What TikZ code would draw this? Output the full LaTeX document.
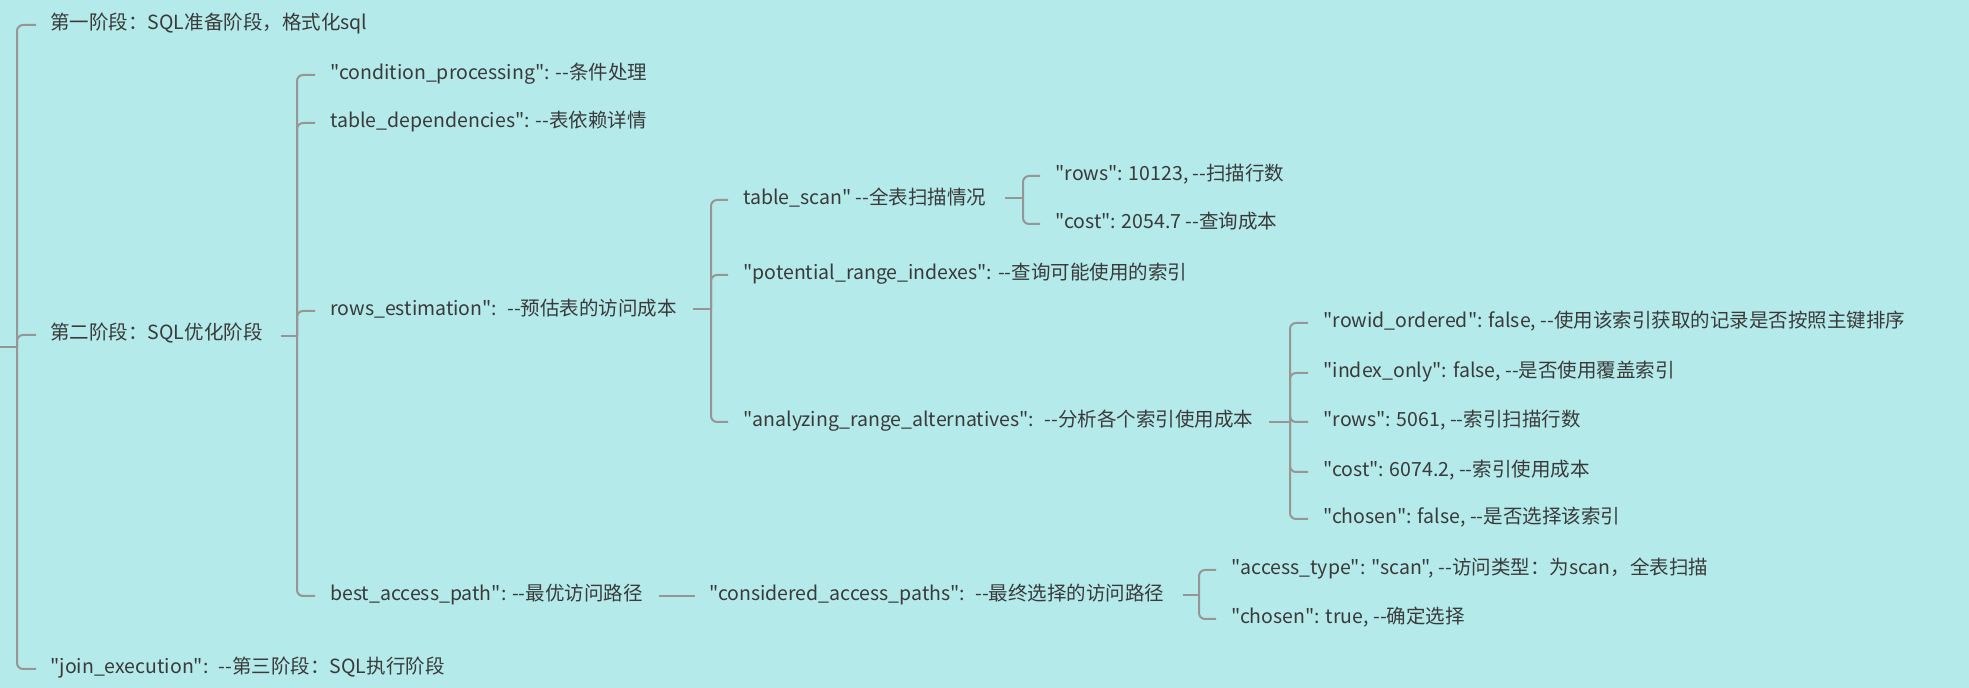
\documentclass[tikz,border=0pt]{standalone}
\usepackage{fontspec}
\newfontfamily\cjk{Noto Sans CJK SC}
\definecolor{bgc}{RGB}{180,234,234}
\definecolor{linec}{RGB}{150,150,150}
\definecolor{txtc}{RGB}{58,58,58}
\newcommand{\dd}{-\kern0pt-}
\begin{document}
\begin{tikzpicture}[x=0.5pt,y=-0.5pt,
  lbl/.style={anchor=west,inner sep=0pt,text height=0.8em,text depth=0.2em,yshift=0.6pt,font=\cjk\fontsize{9.75pt}{12pt}\selectfont,text=txtc},
  conn/.style={draw=linec,line width=1pt,rounded corners=3pt}]
\fill[bgc] (0,0) rectangle (1969,688);
\useasboundingbox (0,0) rectangle (1969,688);
% level 1
\node[lbl] (t1) at (50,25) {第一阶段：SQL准备阶段，格式化sql};
\node[lbl] (t2) at (50,335) {第二阶段：SQL优化阶段};
\node[lbl] (t3) at (50,669) {"join\_execution":~ \dd{}第三阶段：SQL执行阶段};
% level 2
\node[lbl] (a1) at (330,75) {"condition\_processing": \dd{}条件处理};
\node[lbl] (a2) at (330,123) {table\_dependencies": \dd{}表依赖详情};
\node[lbl] (a3) at (330,311) {rows\_estimation":~ \dd{}预估表的访问成本};
\node[lbl] (a4) at (330,596) {best\_access\_path": \dd{}最优访问路径};
% level 3
\node[lbl] (b1) at (743,200) {table\_scan" \dd{}全表扫描情况};
\node[lbl] (b2) at (743,275) {"potential\_range\_indexes": \dd{}查询可能使用的索引};
\node[lbl] (b3) at (743,422) {"analyzing\_range\_alternatives":~ \dd{}分析各个索引使用成本};
\node[lbl] (e1) at (709,596) {"considered\_access\_paths":~ \dd{}最终选择的访问路径};
% level 4
\node[lbl] (c1) at (1055,176) {"rows": 10123, \dd{}扫描行数};
\node[lbl] (c2) at (1055,224) {"cost": 2054.7 \dd{}查询成本};
\node[lbl] (d1) at (1323,323) {"rowid\_ordered": false, \dd{}使用该索引获取的记录是否按照主键排序};
\node[lbl] (d2) at (1323,373) {"index\_only": false, \dd{}是否使用覆盖索引};
\node[lbl] (d3) at (1323,422) {"rows": 5061, \dd{}索引扫描行数};
\node[lbl] (d4) at (1323,472) {"cost": 6074.2, \dd{}索引使用成本};
\node[lbl] (d5) at (1323,519) {"chosen": false, \dd{}是否选择该索引};
\node[lbl] (f1) at (1231,570) {"access\_type": "scan", \dd{}访问类型：为scan，全表扫描};
\node[lbl] (f2) at (1231,619) {"chosen": true, \dd{}确定选择};
% junctions
\coordinate (r0) at (0,347);
\coordinate (j0) at (17,347);
\coordinate (j1) at (297,336);
\coordinate (j2) at (711,309);
\coordinate (j3) at (1023,198);
\coordinate (j4) at (1290,422);
\coordinate (j5) at (1199,595);
% root
\draw[conn] (r0) -- (j0);
\foreach \c in {t1,t2,t3} \draw[conn] (j0) |- ([xshift=-7pt,yshift=-0.6pt]\c.west);
% stage 2
\draw[conn] ([xshift=9pt]t2.east |- j1) -- (j1);
\foreach \c in {a1,a2,a3,a4} \draw[conn] (j1) |- ([xshift=-7.5pt,yshift=-0.6pt]\c.west);
% rows_estimation
\draw[conn] ([xshift=8pt]a3.east |- j2) -- (j2);
\foreach \c in {b1,b2,b3} \draw[conn] (j2) |- ([xshift=-7.5pt,yshift=-0.6pt]\c.west);
% table_scan
\draw[conn] ([xshift=9pt]b1.east |- j3) -- (j3);
\foreach \c in {c1,c2} \draw[conn] (j3) |- ([xshift=-7.5pt,yshift=-0.6pt]\c.west);
% analyzing
\draw[conn] ([xshift=8pt]b3.east |- j4) -- (j4);
\foreach \c in {d1,d2,d3,d4,d5} \draw[conn] (j4) |- ([xshift=-7.5pt,yshift=-0.6pt]\c.west);
% best_access_path -> considered
\draw[conn] ([xshift=8pt,yshift=-0.6pt]a4.east) -- ([xshift=-7pt,yshift=-0.6pt]e1.west);
% considered
\draw[conn] ([xshift=9pt]e1.east |- j5) -- (j5);
\foreach \c in {f1,f2} \draw[conn] (j5) |- ([xshift=-7.5pt,yshift=-0.6pt]\c.west);
\end{tikzpicture}
\end{document}
